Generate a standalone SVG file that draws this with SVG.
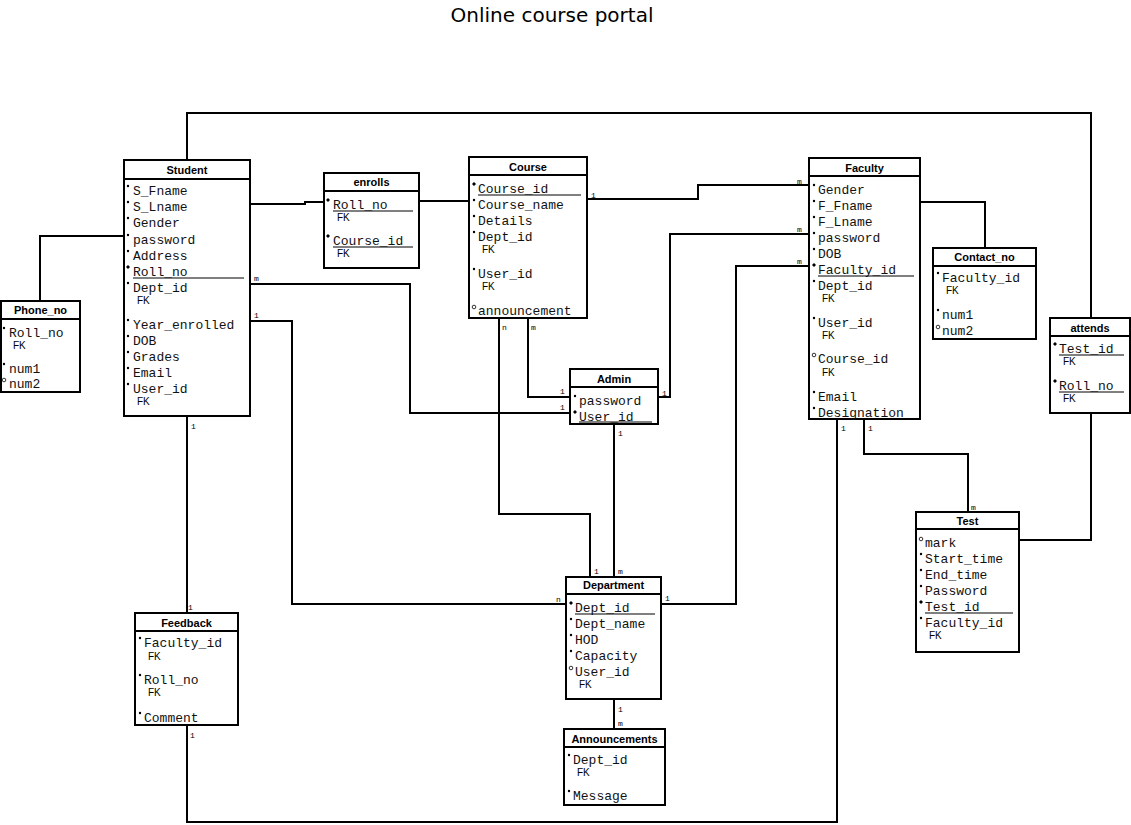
<svg xmlns="http://www.w3.org/2000/svg" xmlns:xlink="http://www.w3.org/1999/xlink" width="1131" height="825" viewBox="0 0 1131 825">
<style>
.bg{fill:#fff}
.box{fill:#fff;stroke:#000;stroke-width:2}
.hl{stroke:#000;stroke-width:2}
.t{font-family:"Liberation Sans",Arial,sans-serif;font-weight:bold;font-size:11px;text-anchor:middle;fill:#000}
.a{font-family:"Liberation Mono","Courier New",monospace;font-size:13px;fill:#111}
.fk{font-family:"Liberation Sans",Arial,sans-serif;font-size:10px;fill:#000}
.u{stroke:#000;stroke-width:1}
.c{fill:none;stroke:#000;stroke-width:2}
.l{font-family:"Liberation Mono","Courier New",monospace;font-size:8px;fill:#000}
.title{font-family:"DejaVu Sans",Verdana,sans-serif;font-size:20px;text-anchor:middle;fill:#000}
</style>
<defs>
<circle id="d" r="1.2" fill="#000"/>
<path id="k" d="M0,-2L2,0L0,2L-2,0Z" fill="#000"/>
<circle id="o" r="1.8" fill="#fff" stroke="#000" stroke-width="0.8"/>
</defs>
<rect class="bg" x="0" y="0" width="1131" height="825"/>
<text class="title" x="552" y="22">Online course portal</text>

<g id="connectors">
<path class="c" d="M187,160V113H1091V318"/>
<path class="c" d="M1091,413V540H1019"/>
<path class="c" d="M124,236H40V301"/>
<path class="c" d="M250,204H305V202H324"/>
<path class="c" d="M419,201H469"/>
<path class="c" d="M587,199H698V185H809"/>
<path class="c" d="M250,284H410V413H570"/>
<path class="c" d="M250,321H292V604H566"/>
<path class="c" d="M528,318V397H570"/>
<path class="c" d="M499,318V514H590V577"/>
<path class="c" d="M658,397H670V234H809"/>
<path class="c" d="M614,424V577"/>
<path class="c" d="M661,604H736V266H809"/>
<path class="c" d="M920,202H985V248"/>
<path class="c" d="M864,419V454H968V512"/>
<path class="c" d="M837,419V822H187V725"/>
<path class="c" d="M187,416V613"/>
<path class="c" d="M614,699V729"/>
<text class="l" x="591" y="198">1</text>
<text class="l" x="797" y="184">m</text>
<text class="l" x="254" y="281">m</text>
<text class="l" x="560" y="410">1</text>
<text class="l" x="254" y="318">1</text>
<text class="l" x="556" y="602">n</text>
<text class="l" x="531" y="330">m</text>
<text class="l" x="560" y="394">1</text>
<text class="l" x="502" y="330">n</text>
<text class="l" x="594" y="574">1</text>
<text class="l" x="662" y="396">1</text>
<text class="l" x="797" y="232">m</text>
<text class="l" x="618" y="436">1</text>
<text class="l" x="618" y="574">m</text>
<text class="l" x="665" y="601">1</text>
<text class="l" x="797" y="264">m</text>
<text class="l" x="868" y="431">1</text>
<text class="l" x="971" y="510">m</text>
<text class="l" x="841" y="431">1</text>
<text class="l" x="190" y="738">1</text>
<text class="l" x="191" y="429">1</text>
<text class="l" x="188" y="610">1</text>
<text class="l" x="618" y="712">1</text>
<text class="l" x="618" y="726">m</text>
</g>

<g id="Student">
<rect class="box" x="124" y="160" width="126" height="256"/>
<line class="hl" x1="124" y1="179" x2="250" y2="179"/>
<text class="t" x="187" y="174">Student</text>
<use xlink:href="#d" x="128" y="186"/><text class="a" x="133" y="195">S_Fname</text>
<use xlink:href="#d" x="128" y="202"/><text class="a" x="133" y="211">S_Lname</text>
<use xlink:href="#d" x="128" y="218"/><text class="a" x="133" y="227">Gender</text>
<use xlink:href="#d" x="128" y="235"/><text class="a" x="133" y="244">password</text>
<use xlink:href="#d" x="128" y="251"/><text class="a" x="133" y="260">Address</text>
<use xlink:href="#k" x="128" y="267"/><text class="a" x="133" y="276">Roll_no</text>
<line class="u" x1="133" y1="278" x2="244" y2="278"/>
<use xlink:href="#d" x="128" y="283"/><text class="a" x="133" y="292">Dept_id</text>
<text class="fk" x="137" y="304">FK</text>
<use xlink:href="#d" x="128" y="320"/><text class="a" x="133" y="329">Year_enrolled</text>
<use xlink:href="#d" x="128" y="336"/><text class="a" x="133" y="345">DOB</text>
<use xlink:href="#d" x="128" y="352"/><text class="a" x="133" y="361">Grades</text>
<use xlink:href="#d" x="128" y="368"/><text class="a" x="133" y="377">Email</text>
<use xlink:href="#d" x="128" y="384"/><text class="a" x="133" y="393">User_id</text>
<text class="fk" x="137" y="405">FK</text>
</g>

<g id="Phone_no">
<rect class="box" x="1" y="301" width="79" height="91"/>
<line class="hl" x1="1" y1="319" x2="80" y2="319"/>
<text class="t" x="40.5" y="314">Phone_no</text>
<use xlink:href="#d" x="4" y="328"/><text class="a" x="9" y="337">Roll_no</text>
<text class="fk" x="13" y="349">FK</text>
<use xlink:href="#d" x="4" y="364"/><text class="a" x="9" y="373">num1</text>
<use xlink:href="#o" x="4" y="380"/><text class="a" x="9" y="388">num2</text>
</g>

<g id="enrolls">
<rect class="box" x="324" y="173" width="95" height="95"/>
<line class="hl" x1="324" y1="191" x2="419" y2="191"/>
<text class="t" x="371.5" y="186">enrolls</text>
<use xlink:href="#k" x="328" y="200"/><text class="a" x="333" y="209">Roll_no</text>
<line class="u" x1="333" y1="211" x2="413" y2="211"/>
<text class="fk" x="337" y="221">FK</text>
<use xlink:href="#k" x="328" y="236"/><text class="a" x="333" y="245">Course_id</text>
<line class="u" x1="333" y1="247" x2="413" y2="247"/>
<text class="fk" x="337" y="257">FK</text>
</g>

<g id="Course">
<rect class="box" x="469" y="157" width="118" height="161"/>
<line class="hl" x1="469" y1="175" x2="587" y2="175"/>
<text class="t" x="528" y="171">Course</text>
<use xlink:href="#k" x="474" y="184"/><text class="a" x="478" y="193">Course_id</text>
<line class="u" x1="478" y1="195" x2="581" y2="195"/>
<use xlink:href="#d" x="474" y="200"/><text class="a" x="478" y="209">Course_name</text>
<use xlink:href="#d" x="474" y="216"/><text class="a" x="478" y="225">Details</text>
<use xlink:href="#d" x="474" y="232"/><text class="a" x="478" y="241">Dept_id</text>
<text class="fk" x="482" y="253">FK</text>
<use xlink:href="#d" x="474" y="269"/><text class="a" x="478" y="278">User_id</text>
<text class="fk" x="482" y="290">FK</text>
<use xlink:href="#o" x="474" y="307"/><text class="a" x="478" y="315">announcement</text>
</g>

<g id="Faculty">
<rect class="box" x="809" y="158" width="111" height="261"/>
<line class="hl" x1="809" y1="176" x2="920" y2="176"/>
<text class="t" x="864.5" y="172">Faculty</text>
<use xlink:href="#d" x="814" y="185"/><text class="a" x="818" y="194">Gender</text>
<use xlink:href="#d" x="814" y="201"/><text class="a" x="818" y="210">F_Fname</text>
<use xlink:href="#d" x="814" y="217"/><text class="a" x="818" y="226">F_Lname</text>
<use xlink:href="#d" x="814" y="233"/><text class="a" x="818" y="242">password</text>
<use xlink:href="#d" x="814" y="249"/><text class="a" x="818" y="258">DOB</text>
<use xlink:href="#k" x="814" y="265"/><text class="a" x="818" y="274">Faculty_id</text>
<line class="u" x1="818" y1="276" x2="914" y2="276"/>
<use xlink:href="#d" x="814" y="281"/><text class="a" x="818" y="290">Dept_id</text>
<text class="fk" x="822" y="302">FK</text>
<use xlink:href="#d" x="814" y="318"/><text class="a" x="818" y="327">User_id</text>
<text class="fk" x="822" y="339">FK</text>
<use xlink:href="#o" x="814" y="355"/><text class="a" x="818" y="363">Course_id</text>
<text class="fk" x="822" y="376">FK</text>
<use xlink:href="#d" x="814" y="392"/><text class="a" x="818" y="401">Email</text>
<use xlink:href="#d" x="814" y="408"/><text class="a" x="818" y="417">Designation</text>
</g>

<g id="Contact_no">
<rect class="box" x="933" y="248" width="103" height="91"/>
<line class="hl" x1="933" y1="266" x2="1036" y2="266"/>
<text class="t" x="984.5" y="261">Contact_no</text>
<use xlink:href="#d" x="938" y="273"/><text class="a" x="942" y="282">Faculty_id</text>
<text class="fk" x="946" y="294">FK</text>
<use xlink:href="#d" x="938" y="310"/><text class="a" x="942" y="319">num1</text>
<use xlink:href="#o" x="938" y="327"/><text class="a" x="942" y="335">num2</text>
</g>

<g id="attends">
<rect class="box" x="1050" y="318" width="80" height="95"/>
<line class="hl" x1="1050" y1="336" x2="1130" y2="336"/>
<text class="t" x="1090" y="332">attends</text>
<use xlink:href="#k" x="1055" y="344"/><text class="a" x="1059" y="353">Test_id</text>
<line class="u" x1="1059" y1="355" x2="1124" y2="355"/>
<text class="fk" x="1063" y="365">FK</text>
<use xlink:href="#k" x="1055" y="381"/><text class="a" x="1059" y="390">Roll_no</text>
<line class="u" x1="1059" y1="392" x2="1124" y2="392"/>
<text class="fk" x="1063" y="402">FK</text>
</g>

<g id="Admin">
<rect class="box" x="570" y="369" width="88" height="55"/>
<line class="hl" x1="570" y1="387" x2="658" y2="387"/>
<text class="t" x="614" y="383">Admin</text>
<use xlink:href="#d" x="575" y="396"/><text class="a" x="579" y="405">password</text>
<use xlink:href="#k" x="575" y="412"/><text class="a" x="579" y="421">User_id</text>
<line class="u" x1="579" y1="422" x2="652" y2="422"/>
</g>

<g id="Department">
<rect class="box" x="566" y="577" width="95" height="122"/>
<line class="hl" x1="566" y1="594" x2="661" y2="594"/>
<text class="t" x="613.5" y="589">Department</text>
<use xlink:href="#k" x="571" y="603"/><text class="a" x="575" y="612">Dept_id</text>
<line class="u" x1="575" y1="614" x2="655" y2="614"/>
<use xlink:href="#d" x="571" y="619"/><text class="a" x="575" y="628">Dept_name</text>
<use xlink:href="#d" x="571" y="635"/><text class="a" x="575" y="644">HOD</text>
<use xlink:href="#d" x="571" y="651"/><text class="a" x="575" y="660">Capacity</text>
<use xlink:href="#o" x="571" y="668"/><text class="a" x="575" y="676">User_id</text>
<text class="fk" x="579" y="688">FK</text>
</g>

<g id="Announcements">
<rect class="box" x="564" y="729" width="101" height="76"/>
<line class="hl" x1="564" y1="747" x2="665" y2="747"/>
<text class="t" x="614.5" y="743">Announcements</text>
<use xlink:href="#d" x="569" y="755"/><text class="a" x="573" y="764">Dept_id</text>
<text class="fk" x="577" y="776">FK</text>
<use xlink:href="#d" x="569" y="791"/><text class="a" x="573" y="800">Message</text>
</g>

<g id="Feedback">
<rect class="box" x="135" y="613" width="103" height="112"/>
<line class="hl" x1="135" y1="631" x2="238" y2="631"/>
<text class="t" x="186.5" y="627">Feedback</text>
<use xlink:href="#d" x="140" y="638"/><text class="a" x="144" y="647">Faculty_id</text>
<text class="fk" x="148" y="660">FK</text>
<use xlink:href="#d" x="140" y="675"/><text class="a" x="144" y="684">Roll_no</text>
<text class="fk" x="148" y="696">FK</text>
<use xlink:href="#d" x="140" y="713"/><text class="a" x="144" y="722">Comment</text>
</g>

<g id="Test">
<rect class="box" x="916" y="512" width="103" height="140"/>
<line class="hl" x1="916" y1="529" x2="1019" y2="529"/>
<text class="t" x="967.5" y="525">Test</text>
<use xlink:href="#o" x="921" y="539"/><text class="a" x="925" y="547">mark</text>
<use xlink:href="#d" x="921" y="554"/><text class="a" x="925" y="563">Start_time</text>
<use xlink:href="#d" x="921" y="570"/><text class="a" x="925" y="579">End_time</text>
<use xlink:href="#d" x="921" y="586"/><text class="a" x="925" y="595">Password</text>
<use xlink:href="#k" x="921" y="602"/><text class="a" x="925" y="611">Test_id</text>
<line class="u" x1="925" y1="613" x2="1013" y2="613"/>
<use xlink:href="#d" x="921" y="618"/><text class="a" x="925" y="627">Faculty_id</text>
<text class="fk" x="929" y="639">FK</text>
</g>
</svg>
